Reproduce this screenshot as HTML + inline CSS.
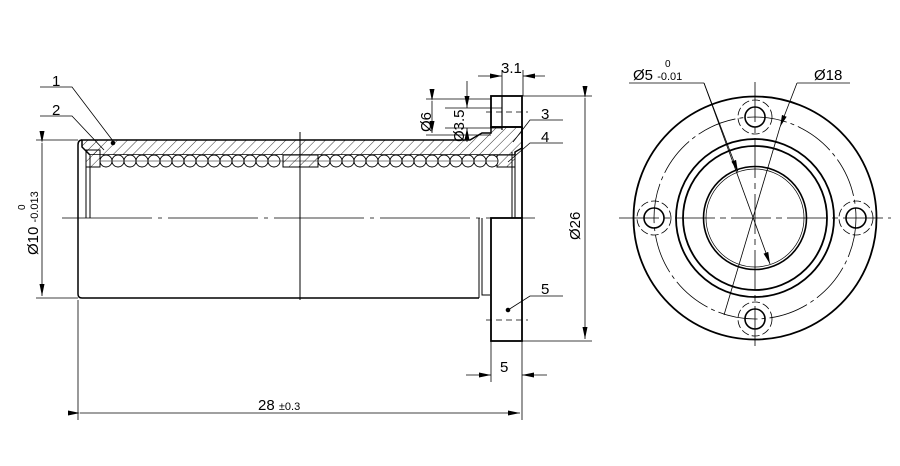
<!DOCTYPE html>
<html><head><style>
html,body{margin:0;padding:0;background:#fff;}
svg{display:block;}
text{font-family:"Liberation Sans",sans-serif;fill:#000;}
</style></head><body>
<svg width="900" height="466" viewBox="0 0 900 466" xmlns="http://www.w3.org/2000/svg">
<defs>
<pattern id="h" width="7" height="7" patternUnits="userSpaceOnUse" patternTransform="rotate(45)">
<line x1="0" y1="0" x2="0" y2="7" stroke="#000" stroke-width="0.8"/>
</pattern>
<marker id="a" markerWidth="12" markerHeight="6" refX="12" refY="3" orient="auto" markerUnits="userSpaceOnUse">
<path d="M0,0.5 L12,3 L0,5.5 z" fill="#000"/>
</marker>
</defs>
<g fill="none" stroke="#000">
<path d="M82,140 L470,140 L482,133 L491,133 L491,127 L522,127 L522,148 L515,152 L515,155 L90,155 L82,147 Z" fill="url(#h)" stroke-width="1.5"/>
<g stroke-width="1">
<rect x="86" y="155" width="430" height="12" fill="#fff" stroke="none"/>
<rect x="283" y="155" width="35" height="12" fill="url(#h)"/>
<rect x="86" y="150" width="14" height="17" fill="url(#h)"/>
<rect x="497" y="155" width="18" height="12" fill="url(#h)"/>
</g>
<path d="M82,140 Q78,140 78,145 L78,294 Q78,298 82,298 L479,298" stroke-width="1.5"/>
<line x1="86" y1="150" x2="86" y2="218" stroke-width="1"/>
<line x1="90" y1="155" x2="90" y2="218" stroke-width="1"/>
<line x1="515" y1="152" x2="515" y2="218" stroke-width="1"/>
<line x1="512" y1="152" x2="512" y2="218" stroke-width="1"/>
<line x1="522" y1="127" x2="522" y2="218" stroke-width="1.8"/>
<line x1="300" y1="132" x2="300" y2="300" stroke-width="1"/>
<path d="M479,218 L479,298 M482,218 L482,295 L490,295" stroke-width="1"/>
<rect x="491" y="218" width="31" height="123" stroke-width="1.8"/>
<rect x="491" y="96" width="31" height="31" stroke-width="1.8"/>
<line x1="502" y1="96" x2="502" y2="130" stroke-width="1.2"/>
<line x1="486" y1="112" x2="528" y2="112" stroke-width="0.8" stroke-dasharray="6,4"/>
<line x1="486" y1="320" x2="528" y2="320" stroke-width="0.8" stroke-dasharray="6,4"/>
<line x1="62" y1="218" x2="535" y2="218" stroke-width="0.8" stroke-dasharray="90,6,4,6"/>
<g stroke-width="0.8">
<line x1="36" y1="140" x2="78" y2="140"/><line x1="36" y1="298" x2="78" y2="298"/>
<line x1="42" y1="143" x2="42" y2="296" marker-start="url(#a)" marker-end="url(#a)"/>
<line x1="78" y1="300" x2="78" y2="420"/><line x1="522" y1="341" x2="522" y2="420"/>
<line x1="80" y1="413" x2="520" y2="413" marker-start="url(#a)" marker-end="url(#a)"/>
<line x1="491" y1="341" x2="491" y2="382"/>
<line x1="466" y1="375" x2="491" y2="375" marker-end="url(#a)"/>
<line x1="547" y1="375" x2="522" y2="375" marker-end="url(#a)"/>
<line x1="522" y1="96" x2="592" y2="96"/><line x1="522" y1="341" x2="592" y2="341"/>
<line x1="585" y1="98" x2="585" y2="339" marker-start="url(#a)" marker-end="url(#a)"/>
<line x1="502" y1="96" x2="502" y2="70"/><line x1="523" y1="96" x2="523" y2="70"/>
<line x1="478" y1="76" x2="502" y2="76" marker-end="url(#a)"/>
<line x1="545" y1="76" x2="523" y2="76" marker-end="url(#a)"/>
<line x1="426" y1="99" x2="491" y2="99"/><line x1="426" y1="135" x2="491" y2="135"/>
<line x1="432" y1="101" x2="432" y2="133" marker-start="url(#a)" marker-end="url(#a)"/>
<line x1="445" y1="108" x2="502" y2="108"/><line x1="445" y1="128" x2="502" y2="128"/>
<line x1="467" y1="81" x2="467" y2="108" marker-end="url(#a)"/>
<line x1="467" y1="142" x2="467" y2="128" marker-end="url(#a)"/>
<path d="M40,87 L72,87 L113,141"/><path d="M40,116 L72,116 L104,150"/>
<path d="M563,120 L530,120 L513,142"/><path d="M563,143 L530,143 L508,162"/>
<path d="M563,296 L530,296 L508,310"/>
</g>
<circle cx="113" cy="143" r="1.8" fill="#000"/><circle cx="508" cy="310" r="1.8" fill="#000"/>
<g transform="translate(755,218)">
<circle r="121.5" stroke-width="1.8"/>
<circle r="79" stroke-width="1.8"/>
<circle r="72" stroke-width="1.8"/>
<circle r="51.5" stroke-width="1.6"/>
<circle r="49" stroke-width="0.7"/>
<circle r="101" stroke-width="0.8" stroke-dasharray="40,4,4,4"/>
<g stroke-width="1.6">
<circle cx="0" cy="-101" r="10"/><circle cx="0" cy="101" r="10"/><circle cx="-101" cy="0" r="10"/><circle cx="101" cy="0" r="10"/>
</g>
<g stroke-width="0.8" stroke-dasharray="8,3">
<circle cx="0" cy="-101" r="17"/><circle cx="0" cy="101" r="17"/><circle cx="-101" cy="0" r="17"/><circle cx="101" cy="0" r="17"/>
</g>
<g stroke-width="0.8" stroke-dasharray="40,5,6,5">
<line x1="-136" y1="0" x2="136" y2="0"/><line x1="0" y1="-136" x2="0" y2="130"/>
</g>
<g stroke-width="0.8">
<line x1="-126" y1="-135" x2="-51" y2="-135"/>
<line x1="-51" y1="-135" x2="15" y2="46" marker-end="url(#a)"/>
<line x1="-51" y1="-135" x2="-17" y2="-46" marker-end="url(#a)"/>
<line x1="95" y1="-135" x2="42" y2="-135"/>
<line x1="42" y1="-135" x2="25" y2="-91" marker-end="url(#a)"/>
<line x1="25" y1="-91" x2="-31" y2="97"/>
</g>
</g>
</g>
<g fill="#fff" stroke="#000" stroke-width="0.9">
<circle cx="106" cy="161" r="6"/><circle cx="118" cy="161" r="6"/><circle cx="130" cy="161" r="6"/><circle cx="142" cy="161" r="6"/><circle cx="154" cy="161" r="6"/><circle cx="166" cy="161" r="6"/><circle cx="178" cy="161" r="6"/><circle cx="190" cy="161" r="6"/><circle cx="202" cy="161" r="6"/><circle cx="214" cy="161" r="6"/><circle cx="226" cy="161" r="6"/><circle cx="238" cy="161" r="6"/><circle cx="250" cy="161" r="6"/><circle cx="262" cy="161" r="6"/><circle cx="274" cy="161" r="6"/>
<circle cx="324" cy="161" r="6"/><circle cx="336" cy="161" r="6"/><circle cx="348" cy="161" r="6"/><circle cx="360" cy="161" r="6"/><circle cx="372" cy="161" r="6"/><circle cx="384" cy="161" r="6"/><circle cx="396" cy="161" r="6"/><circle cx="408" cy="161" r="6"/><circle cx="420" cy="161" r="6"/><circle cx="432" cy="161" r="6"/><circle cx="444" cy="161" r="6"/><circle cx="456" cy="161" r="6"/><circle cx="468" cy="161" r="6"/><circle cx="480" cy="161" r="6"/><circle cx="492" cy="161" r="6"/>
<line x1="100" y1="161" x2="498" y2="161" stroke-width="0.5"/>
</g>
<g font-size="15">
<text x="52" y="86">1</text><text x="52" y="115">2</text>
<text x="541" y="119">3</text><text x="541" y="142">4</text>
<text x="541" y="294">5</text>
<text x="500" y="372">5</text>
<text x="258" y="410">28 <tspan font-size="11">±0.3</tspan></text>
<text x="501" y="73">3.1</text>
<text transform="translate(580,240) rotate(-90)">Ø26</text>
<text transform="translate(431,132) rotate(-90)">Ø6</text>
<text transform="translate(464,142) rotate(-90)">Ø3.5</text>
<text transform="translate(38,255) rotate(-90)">Ø10 <tspan font-size="11">-0.013</tspan></text>
<text transform="translate(25,210) rotate(-90)" font-size="10">0</text>
<text x="633" y="80">Ø5 <tspan font-size="11">-0.01</tspan></text>
<text x="665" y="67" font-size="10">0</text>
<text x="814" y="80">Ø18</text>
</g>
</svg>
</body></html>
